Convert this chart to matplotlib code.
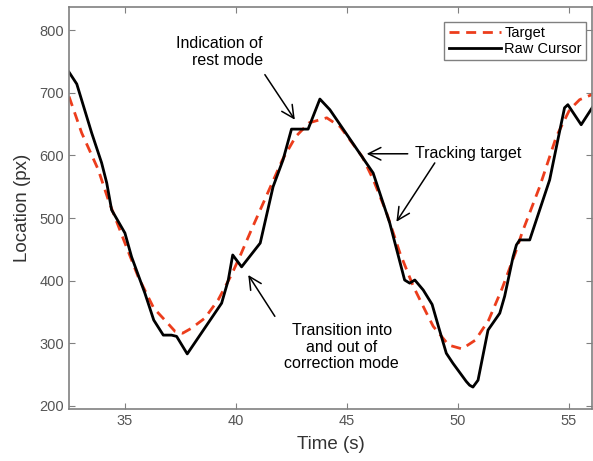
import numpy as np
import matplotlib.pyplot as plt

plt.rcParams['font.family'] = ['Liberation Sans', 'DejaVu Sans']

# Target trajectory (s, px)
target_t = [32.48, 33.05, 33.8, 34.25, 35.0, 35.6, 36.3, 36.8, 37.26, 37.6, 38.0,
            38.6, 39.2, 39.8, 40.2, 40.7, 41.5, 42.1, 42.7, 43.3, 44.1, 44.7,
            45.7, 46.2, 46.8, 47.4, 48.0, 48.6, 48.9, 49.6, 50.2, 50.8, 51.4,
            52.0, 52.6, 52.9, 53.7, 54.45, 55.05, 55.5, 56.05]
target_y = [694, 636, 577, 529, 460, 406, 356, 337, 319, 316, 324,
            340, 369, 409, 440, 481, 545, 593, 630, 652, 660, 646,
            598, 561, 508, 444, 391, 348, 327, 297, 291, 305, 337,
            387, 444, 476, 550, 630, 673, 689, 697]

# Raw cursor trajectory (s, px)
cursor_t = [32.48, 32.83, 33.5, 33.95, 34.18, 34.4, 35.0, 35.3, 35.9, 36.3, 36.73,
            37.1, 37.33, 37.81, 39.36, 39.66, 39.86, 40.26, 41.1, 41.68, 42.13,
            42.51, 43.26, 43.79, 44.24, 46.19, 46.94, 47.61, 47.84, 48.07, 48.45,
            48.85, 49.15, 49.49, 49.79, 50.39, 50.54, 50.69, 50.92, 51.37, 51.9,
            52.12, 52.5, 52.65, 52.8, 53.25, 54.15, 54.52, 54.82, 54.97, 55.57, 56.1]
cursor_y = [733, 714, 636, 588, 556, 513, 476, 438, 380, 337, 313,
            313, 311, 283, 364, 401, 441, 422, 460, 550, 593,
            642, 642, 690, 673, 572, 492, 401, 396, 401, 385,
            362, 325, 284, 268, 239, 233, 230, 241, 321, 348,
            375, 438, 457, 465, 465, 561, 625, 676, 681, 649, 678]

fig = plt.figure(figsize=(5.93, 4.61), dpi=100)
ax = fig.add_axes([0.1164, 0.1128, 0.8816, 0.872])

ax.plot(target_t, target_y, color='#ec3d1c', lw=2.0, ls=(0, (3.6, 2.4)), label='Target')
ax.plot(cursor_t, cursor_y, color='black', lw=2.0, label='Raw Cursor')

ax.set_xlim(32.48, 56.05)
ax.set_ylim(195, 837)
ax.set_xticks([35, 40, 45, 50, 55])
ax.set_yticks([200, 300, 400, 500, 600, 700, 800])
ax.tick_params(direction='in', length=4, top=True, right=True, labelsize=10.5,
               labelcolor='#555555', color='#808080')
for s in ax.spines.values():
    s.set_color('#808080')
    s.set_linewidth(1.2)

ax.set_xlabel('Time (s)', fontsize=13.5, color='#333333', labelpad=6)
ax.set_ylabel('Location (px)', fontsize=13.5, color='#333333', labelpad=6)

arrow = dict(arrowstyle='->,head_length=0.9,head_width=0.45', color='black', lw=1.1,
             shrinkA=0, shrinkB=0)

ax.text(41.22, 765, 'Indication of\nrest mode', fontsize=11.5, ha='right', va='center',
        multialignment='right', linespacing=1.15)
ax.annotate('', xy=(42.66, 657), xytext=(41.31, 729), arrowprops=arrow)

ax.text(48.07, 602.6, 'Tracking target', fontsize=11.5, ha='left', va='center')
ax.annotate('', xy=(45.9, 602.6), xytext=(47.75, 602.6), arrowprops=arrow)
ax.annotate('', xy=(47.24, 494), xytext=(48.97, 588), arrowprops=arrow)

ax.text(44.78, 294, 'Transition into\nand out of\ncorrection mode', fontsize=11.5,
        ha='center', va='center', multialignment='center', linespacing=1.15)
ax.annotate('', xy=(40.56, 409), xytext=(41.76, 343), arrowprops=arrow)

leg = ax.legend(loc='upper right', bbox_to_anchor=(0.989, 0.963), borderaxespad=0,
                fontsize=10.5, handlelength=3.6, handletextpad=0.2, fancybox=False,
                borderpad=0.3, labelspacing=0.1, framealpha=1)
leg.get_frame().set_edgecolor('#808080')
leg.get_frame().set_linewidth(1.0)

fig.savefig('out.png', dpi=100)
